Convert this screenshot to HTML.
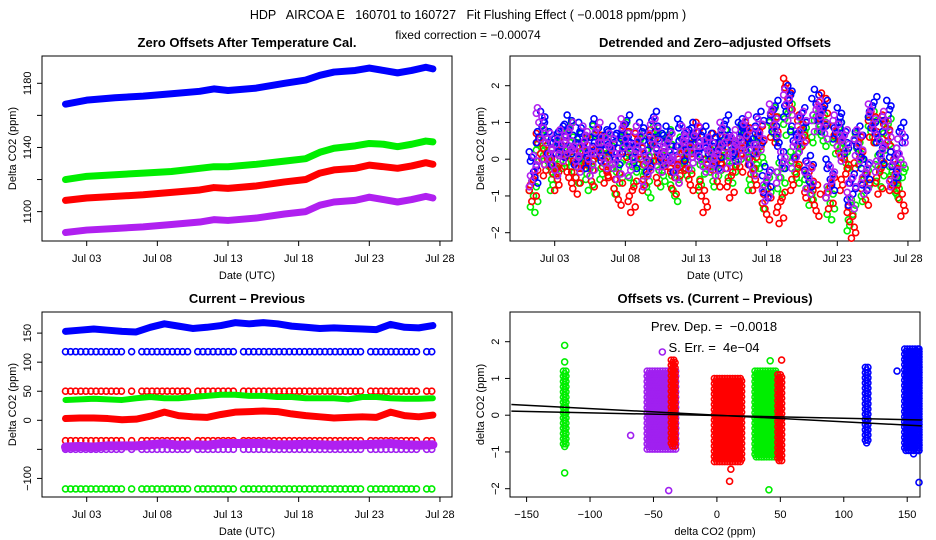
<!DOCTYPE html>
<html><head><meta charset="utf-8"><style>
html,body{margin:0;padding:0;background:#fff;}
svg{display:block;font-family:"Liberation Sans",sans-serif;}
.pre{white-space:pre;}
</style></head><body>
<svg id="chart" width="936" height="540" viewBox="0 0 936 540" xmlns="http://www.w3.org/2000/svg">
<text class="pre" x="468" y="19" text-anchor="middle" font-size="12.5" xml:space="preserve">HDP   AIRCOA E   160701 to 160727   Fit Flushing Effect ( −0.0018 ppm/ppm )</text>
<text x="468" y="39" text-anchor="middle" font-size="12">fixed correction = −0.00074</text>
<g id="g"></g>
</svg>
<script>
// ---------- data ----------
const days1 = [1.5,3,5,7,9,11,12,13,15,17,18.5,19.5,20.5,22,23,24,25,26,27,27.5];
const blue1 = [1167,1169.5,1171,1172,1173.5,1175,1176.5,1175.5,1177,1180,1182,1185,1187,1188,1189.5,1188,1186.5,1188,1190,1189];
const green1 = [1120,1122,1123,1124,1125,1127,1128,1128,1129.5,1131.5,1133,1137,1139.5,1141,1142.5,1142,1140.5,1142,1144,1143.5];
const red1 = [1107,1108.5,1109.5,1110.5,1112,1113.5,1115,1114.5,1116,1118.5,1120,1124,1126,1127,1129,1128,1127,1128.5,1130.5,1129.5];
const purple1 = [1087,1088.5,1089.5,1090.5,1092,1093.5,1095,1094.5,1096,1098.5,1100,1104,1106,1107,1109,1107.5,1106,1107.5,1109.5,1108.5];

const days3 = [1.5,2.5,3.5,4.5,5.5,6.5,7.5,8.5,9.5,10.5,11.5,12.5,13.5,14.5,15.5,16.5,17.5,18.5,19.5,20.5,21.5,22.5,23.5,24.5,25.5,26.5,27.5];
const blue3 = [153,155,157,155,153,152,160,166,162,158,160,163,168,166,168,166,162,160,158,159,158,157,156,165,160,159,163];
const red3 = [3,4,4,3,1,2,7,14,8,6,5,10,14,15,16,15,11,8,6,4,5,6,5,14,8,6,9];
const green3 = [35,36,37,36,35,38,40,38,38,40,42,44,44,42,42,40,40,38,38,38,36,40,40,38,37,37,38];
const purple3 = [-46,-45,-46,-44,-44,-44,-42,-40,-43,-42,-43,-40,-40,-40,-40,-42,-42,-41,-42,-43,-42,-42,-41,-40,-42,-43,-42];
const rowVals = [118,50,-35,-50,-118];
const rowColors = ["#0000ff","#ff0000","#ff0000","#a020f0","#00ee00"];
const rowGaps = [[5.6,6.0],[6.5,6.9],[10.3,10.6],[13.5,14.0],[22.6,22.9],[26.6,26.9]];

const blue2 = [-0.2,0.9,0.6,0.3,0.5,0.8,0.3,0.6,0.2,0.7,0.4,0.5,0.3,0.8,0.2,0.6,0.1,0.9,0.3,0.5,0.1,0.7,0.4,0.6,0.5,0.3,0.2,0.8,0.4,0.6,0.7,0.3,0.9,-0.6,1.2,0.2,1.6,0.5,1.0,-0.3,1.5,1.2,-0.4,1.0,0.6,-0.8,0.5,-0.4,1.3,0.3,1.2,-0.2,0.6];
const green2 = [-1.0,0.4,0.1,-0.4,0.2,0.6,-0.2,0.3,-0.4,0.5,-0.1,0.2,-0.5,0.6,-0.2,0.3,-0.6,0.5,-0.3,0.4,-0.7,0.2,0.0,0.3,-0.4,0.1,-0.3,0.4,-0.2,0.3,0.5,-0.4,0.2,-0.9,1.0,-0.5,1.1,-0.2,0.6,-0.8,0.9,0.8,-1.2,0.6,0.2,-1.5,0.3,-0.7,0.9,-0.3,0.7,-0.6,-0.5];
const red2 = [-0.7,0.3,0.0,-0.4,0.1,-0.2,-0.5,0.2,-0.3,0.4,-0.2,0.0,-0.8,0.5,-1.0,0.3,-0.4,0.4,-0.2,0.2,-0.5,0.0,-0.4,0.6,-1.0,0.3,-0.3,0.2,-0.6,0.1,0.6,-0.4,0.5,-1.2,0.9,-1.3,1.8,-0.4,0.8,-0.6,-1.1,1.4,-0.9,0.5,-0.4,-1.7,0.2,-0.8,0.9,-0.5,0.8,-0.4,-1.1];
const purple2 = [-0.3,1.0,0.3,0.0,0.4,0.6,0.1,0.5,0.0,0.6,0.2,0.3,-0.1,0.7,0.0,0.5,-0.3,0.7,0.1,0.3,-0.2,0.5,0.2,0.5,0.1,0.2,0.0,0.6,0.2,0.4,0.8,0.0,0.7,-0.7,1.1,-0.2,1.5,0.2,0.9,-0.5,1.2,1.0,-0.6,0.8,0.4,-0.9,0.4,-0.5,1.1,0.1,0.9,-0.3,0.3];

// clusters for panel 4: [xLo,xHi,yLo,yHi]
const clusterBounds = [[-121,-118,-0.9,1.2],[-55,-32,-0.95,1.2],[-36,-32,-0.9,1.5],[-2,20,-1.3,1.0],[30,48,-1.2,1.2],[48,52,-1.3,1.1],[117,120,-0.8,1.3],[148,162,-1.0,1.8]];
const clusterColors = ["#00ee00","#a020f0","#ff0000","#ff0000","#00ee00","#ff0000","#0000ff","#0000ff"];
const outX = [-120,-120,-120,-68,-38,-43,10,11,41,51,42,160,155,142];
const outY = [1.9,1.45,-1.57,-0.55,-2.05,1.72,-1.8,-1.47,-2.03,1.5,1.48,-1.83,-1.05,1.2];
const outC = ["#00ee00","#00ee00","#00ee00","#a020f0","#a020f0","#a020f0","#ff0000","#ff0000","#00ee00","#ff0000","#00ee00","#0000ff","#0000ff","#0000ff"];
const fitSlopes = [-0.00074,-0.0018];
const fitIntercepts = [-0.01,0.0];

const dateTicks = [3,8,13,18,23,28];
const dateLabels = ["Jul 03","Jul 08","Jul 13","Jul 18","Jul 23","Jul 28"];

// ---------- helpers ----------
const NS="http://www.w3.org/2000/svg";
const G=document.getElementById('g');
function mk(tag,at,parent){const e=document.createElementNS(NS,tag);for(const k in at)e.setAttribute(k,at[k]);(parent||G).appendChild(e);return e;}
function txt(s,x,y,at,parent){const e=mk('text',Object.assign({x:x,y:y,'font-size':11,'text-anchor':'middle'},at||{}),parent);e.textContent=s;return e;}

const L=42,R=452,T=56,B=241;
function panel(ox,oy,title,xlab,ylab,name){
  const g=mk('g',{});
  
  
  const r=mk('rect',{x:L+ox,y:T+oy,width:R-L,height:B-T,fill:'none',stroke:'#000','stroke-width':1},g);
  
  
  const t=txt(title,(L+R)/2+ox,oy+47,{'font-weight':'bold','font-size':13},g);
  
  
  const xl=txt(xlab,(L+R)/2+ox,oy+279,{},g);
  
  
  const yl=txt(ylab,0,0,{transform:`translate(${ox+16},${(T+B)/2+oy}) rotate(-90)`},g);
  
  
  return g;
}
function xTicks(g,vals,labels,fx,oy){
  vals.forEach((v,i)=>{const x=fx(v);
    mk('line',{x1:x,x2:x,y1:B+oy,y2:B+oy+5,stroke:'#000'},g);
    const t=txt(labels[i],x,B+oy+21,{},g);
    
    });
  mk('line',{x1:fx(vals[0]),x2:fx(vals[vals.length-1]),y1:B+oy,y2:B+oy,stroke:'#000'},g);
}
function yTicks(g,vals,labels,fy,ox){
  vals.forEach((v,i)=>{const y=fy(v);
    mk('line',{x1:L+ox-5,x2:L+ox,y1:y,y2:y,stroke:'#000'},g);
    if(labels[i]!==""){const t=txt(labels[i],0,0,{transform:`translate(${L+ox-11},${y}) rotate(-90)`},g);
    
    }});
}
const dx=(d,ox)=>86.7+(d-3)*14.13+ox;

// ---------- panel 1 ----------
(function(){
  const g=panel(0,0,'Zero Offsets After Temperature Cal.','Date (UTC)','Delta CO2 (ppm)','panel-zero-offsets');
  const fy=v=>83.3+(1180-v)*1.604;
  yTicks(g,[1100,1120,1140,1160,1180],["1100","","1140","","1180"],fy,0);
  xTicks(g,dateTicks,dateLabels,d=>dx(d,0),0);
  [[blue1,'#0000ff','series-blue'],[green1,'#00ee00','series-green'],[red1,'#ff0000','series-red'],[purple1,'#b020f0','series-purple']].forEach(([arr,c,n])=>{
    const p=mk('polyline',{points:arr.map((v,i)=>dx(days1[i],0)+','+fy(v)).join(' '),fill:'none',stroke:c,'stroke-width':7,'stroke-linejoin':'round','stroke-linecap':'round'},g);
    
    
  });
})();

// ---------- panel 2 ----------
(function(){
  const ox=468;
  const g=panel(ox,0,'Detrended and Zero\u2013adjusted Offsets','Date (UTC)','Delta CO2 (ppm)','panel-detrended');
  const fy=v=>159.2-v*36.75;
  yTicks(g,[-2,-1,0,1,2],["\u22122","\u22121","0","1","2"],fy,ox);
  xTicks(g,dateTicks,dateLabels,d=>dx(d,ox),0);
  const offs=[[0,0],[-0.22,-0.3],[0.2,0.25],[0.1,-0.45],[-0.12,0.4],[0.3,-0.15],[-0.3,0.15]];
  [[green2,'#00ee00'],[red2,'#ff0000'],[blue2,'#0000ff'],[purple2,'#b020f0']].forEach(([arr,c],k)=>{
    arr.forEach((v,i)=>{const d=1.5+i*0.5;
      offs.forEach(([dd,dv],j)=>{
        const m=(j+k+i)%offs.length;
        const ci=mk('circle',{cx:dx(d+offs[m][0],ox),cy:fy(v+offs[j][1]),r:3,fill:'none',stroke:c,'stroke-width':1.6},g);
        
        
      });
    });
  });
})();

// ---------- panel 3 ----------
(function(){
  const oy=256;
  const g=panel(0,oy,'Current \u2013 Previous','Date (UTC)','Delta CO2 (ppm)','panel-current-previous');
  const fy=v=>420.3-v*0.5813;
  yTicks(g,[-100,-50,0,50,100,150],["\u2212100","","0","50","100","150"],fy,0);
  xTicks(g,dateTicks,dateLabels,d=>dx(d,0),oy);
  rowVals.forEach((v,k)=>{
    for(let d=1.5;d<=27.5;d+=0.36){
      if(rowGaps.some(([a,b])=>d>a&&d<b))continue;
      const ci=mk('circle',{cx:dx(d,0),cy:fy(v),r:3,fill:'none',stroke:rowColors[k],'stroke-width':1.6},g);
      
      
    }
  });
  [[green3,'#00ee00',6,'series-green'],[purple3,'#b020f0',9,'series-purple'],[red3,'#ff0000',7,'series-red'],[blue3,'#0000ff',7,'series-blue']].forEach(([arr,c,w,n])=>{
    const p=mk('polyline',{points:arr.map((v,i)=>dx(days3[i],0)+','+fy(v)).join(' '),fill:'none',stroke:c,'stroke-width':w,'stroke-linejoin':'round','stroke-linecap':'round'},g);
    
    
  });
})();

// ---------- panel 4 ----------
(function(){
  const ox=468,oy=256;
  const g=panel(ox,oy,'Offsets vs. (Current \u2013 Previous)','delta CO2 (ppm)','delta CO2 (ppm)','panel-offsets-vs-diff');
  const fx=v=>716.9+v*1.2687;
  const fy=v=>415.2-v*36.75;
  yTicks(g,[-2,-1,0,1,2],["\u22122","\u22121","0","1","2"],fy,ox);
  xTicks(g,[-150,-100,-50,0,50,100,150],["\u2212150","\u2212100","\u221250","0","50","100","150"],fx,oy);
  clusterBounds.forEach(([x0,x1,y0,y1],k)=>{
    const px0=fx(x0),px1=fx(x1),py0=fy(y1),py1=fy(y0);
    let row=0;
    for(let y=py0;y<=py1;y+=2.6,row++)for(let x=px0+(row%2)*1.3;x<=px1;x+=2.6){
      const ci=mk('circle',{cx:Math.min(x,919),cy:y,r:3,fill:'none',stroke:clusterColors[k],'stroke-width':1.5},g);
      
      
    }
  });
  outX.forEach((x,i)=>{
    const ci=mk('circle',{cx:Math.min(fx(x),919),cy:fy(outY[i]),r:3,fill:'none',stroke:outC[i],'stroke-width':1.6},g);
    
    
  });
  fitSlopes.forEach((s,i)=>{
    const ln=mk('line',{x1:fx(-162),y1:fy(fitIntercepts[i]+s*-162),x2:fx(161.5),y2:fy(fitIntercepts[i]+s*161.5),stroke:'#000','stroke-width':1.5},g);
    
    
  });
  const a=txt('Prev. Dep. =  \u22120.0018',714,331,{'font-size':13,'xml:space':'preserve',class:'pre'},g);
  
  
  const b=txt('S. Err. =  4e\u221204',714,352,{'font-size':13,class:'pre'},g);
  
  
})();
</script>
</body></html>
